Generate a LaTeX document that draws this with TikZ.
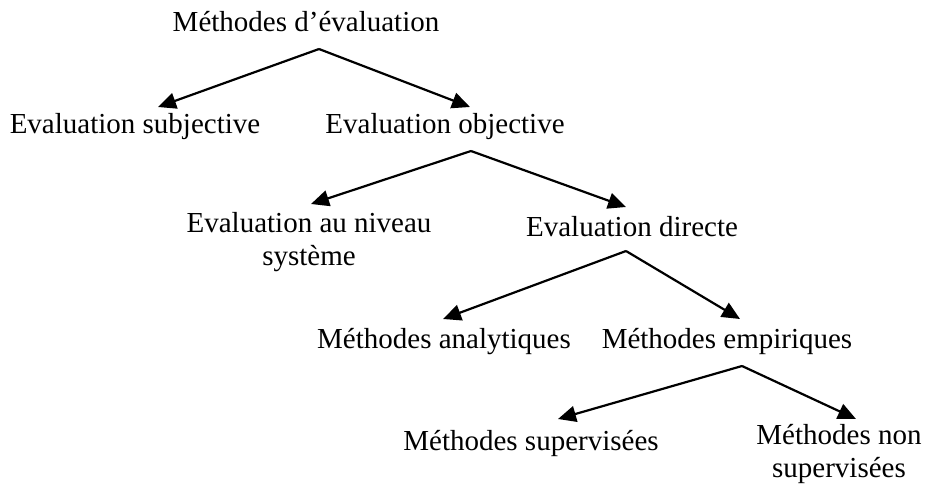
\documentclass[tikz,border=0pt]{standalone}
\usepackage{fontspec}
\setmainfont{Liberation Serif}
\usetikzlibrary{arrows.meta}
\begin{document}
\begin{tikzpicture}[x=1pt,y=-1pt,
  lbl/.style={anchor=base,inner sep=0pt,align=center,font=\fontsize{29}{33}\selectfont},
  conn/.style={line width=2.2pt,-{Triangle[length=18pt,width=16pt]}}]
\useasboundingbox (0,0) rectangle (941,489);
% texts (multi-line nodes: base = baseline of last line)
\node[lbl] (root) at (306,32) {Méthodes d’évaluation};
\node[lbl] (subj) at (135,134) {Evaluation subjective};
\node[lbl] (obj) at (445,134) {Evaluation objective};
\node[lbl] (sys) at (309,265) {Evaluation au niveau\\système};
\node[lbl] (dir) at (632,236) {Evaluation directe};
\node[lbl] (ana) at (444,348) {Méthodes analytiques};
\node[lbl] (emp) at (727,348) {Méthodes empiriques};
\node[lbl] (sup) at (531,450) {Méthodes supervisées};
\node[lbl] (nsup) at (839,477) {Méthodes non\\supervisées};
% connector points
\coordinate (r0) at (319,49);
\coordinate (o0) at (471,151);
\coordinate (d0) at (626,251);
\coordinate (e0) at (742,366);
\coordinate (tsubj) at (158,107);
\coordinate (tobj) at (470,107);
\coordinate (tsys) at (311,204);
\coordinate (tdir) at (626,207);
\coordinate (tana) at (443,319);
\coordinate (temp) at (740,319);
\coordinate (tsup) at (558,419);
\coordinate (tnsup) at (856,419);
\draw[conn] (r0) -- (tsubj);
\draw[conn] (r0) -- (tobj);
\draw[conn] (o0) -- (tsys);
\draw[conn] (o0) -- (tdir);
\draw[conn] (d0) -- (tana);
\draw[conn] (d0) -- (temp);
\draw[conn] (e0) -- (tsup);
\draw[conn] (e0) -- (tnsup);
\end{tikzpicture}
\end{document}
